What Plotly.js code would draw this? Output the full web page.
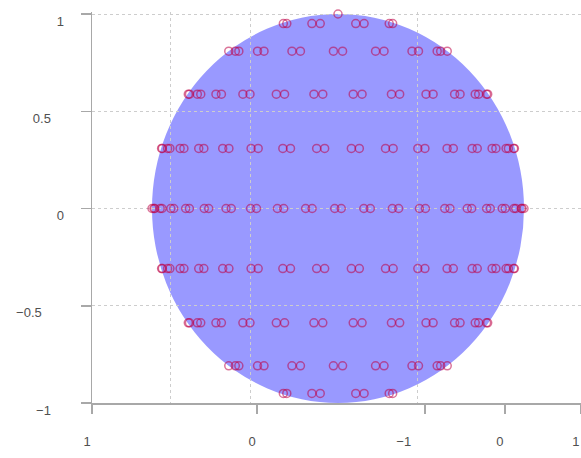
<!DOCTYPE html>
<html>
<head>
<meta charset="utf-8">
<script src="https://cdn.plot.ly/plotly-3.0.1.min.js"></script>
<style>
html,body{margin:0;padding:0;background:#ffffff;}
#chart{width:581px;height:458px;}
</style>
</head>
<body>
<div id="chart"></div>
<script>
// Row heights (y) of the point rows
const rowY = [1, 0.951, 0.809, 0.588, 0.309, 0, -0.309, -0.588, -0.809, -0.951];

// x positions of the points in each row
const x90 = [0];
const x72 = [-0.2939, -0.2753, -0.1403, -0.0955, 0.0955, 0.1403, 0.2753, 0.2939];
const x54 = [-0.5873, -0.5520, -0.5331, -0.4327, -0.3979, -0.2475, -0.2020, -0.0246,
             0.0246, 0.2020, 0.2475, 0.3979, 0.4327, 0.5331, 0.5520, 0.5873];
const x36 = [-0.8049, -0.7986, -0.7563, -0.7379, -0.6562, -0.6269, -0.5113, -0.4733,
             -0.3316, -0.2873, -0.1294, -0.0818, 0.0818, 0.1294, 0.2873, 0.3316,
             0.4733, 0.5113, 0.6269, 0.6562, 0.7379, 0.7563, 0.7986, 0.8049];
const x18 = [-0.9484, -0.9442, -0.9162, -0.9037, -0.8488, -0.8284, -0.7487, -0.7213,
             -0.6199, -0.5865, -0.4673, -0.4292, -0.2966, -0.2554, -0.1147, -0.0717,
             0.0717, 0.1147, 0.2554, 0.2966, 0.4292, 0.4673, 0.5865, 0.6199,
             0.7213, 0.7487, 0.8284, 0.8488, 0.9037, 0.9162, 0.9442, 0.9484];
const x0 = [-1.000, -0.990, -0.985, -0.956, -0.946, -0.899, -0.883, -0.819, -0.799, -0.719,
            -0.695, -0.602, -0.574, -0.470, -0.438, -0.326, -0.292, -0.174, -0.139, -0.0175,
            0.0175, 0.139, 0.174, 0.292, 0.326, 0.438, 0.470, 0.574, 0.602, 0.695,
            0.719, 0.799, 0.819, 0.883, 0.899, 0.946, 0.956, 0.985, 0.990, 1.000];
const rowX = [x90, x72, x54, x36, x18, x0, x18, x36, x54, x72];

// sphere disc extent
const discX = [-1, 1];
const discY = [-1, 1];

// axes
const xRange = [-1.3226, 1.3065];
const yRange = [-1, 1.0103];
const xTickVals = [-1.322, -0.4355, 0.4677, 0.8978, 1.306];
const xTickText = ["1", "0", "\u22121\u2003\u2003\u2002", "0", "1"];
const xGridVals = [-0.903, -0.468, 0.425];
const yTickVals = [-1, -0.5, 0, 0.5, 1];
const yTickText = ["\u22121\u2003", "\u22120.5\u2003\u2002\u2009", "0", "0.5\u2003", "1"];

// body rows on the main axis, the pole point on the overlay axis
const xs = [], ys = [];
rowX.forEach((row, i) => { if (i > 0) row.forEach(v => { xs.push(v); ys.push(rowY[i]); }); });

const axisCol = '#a8a8a8';
const gridCol = '#cdcdcd';
const mk = {symbol: 'circle-open', size: 8, color: 'rgba(190,0,70,0.55)', line: {width: 1.5}};

const data = [{
  type: 'scatter', mode: 'markers', x: xs, y: ys, xaxis: 'x', yaxis: 'y',
  cliponaxis: false, hoverinfo: 'skip', marker: mk
}, {
  type: 'scatter', mode: 'markers', x: x90, y: [rowY[0]], xaxis: 'x2', yaxis: 'y',
  cliponaxis: false, hoverinfo: 'skip', marker: mk
}];

const layout = {
  width: 581, height: 458,
  margin: {l: 92, r: 0, t: 12, b: 55, pad: 0},
  paper_bgcolor: '#ffffff', plot_bgcolor: '#ffffff',
  showlegend: false,
  font: {family: 'Liberation Sans, Arial, sans-serif', size: 13, color: '#505050'},
  xaxis: {
    range: xRange, tickmode: 'array', tickvals: xGridVals, showticklabels: false, ticks: '',
    showgrid: true, gridcolor: gridCol, griddash: 'dot', gridwidth: 1,
    zeroline: false, showline: true, linecolor: axisCol, linewidth: 1.5, fixedrange: true
  },
  xaxis2: {
    overlaying: 'x', anchor: 'y', side: 'bottom', range: xRange,
    tickmode: 'array', tickvals: xTickVals, ticktext: xTickText,
    ticks: 'outside', ticklen: 10, tickwidth: 1.5, tickcolor: axisCol,
    showgrid: false, zeroline: false, showline: false,
    ticklabelstandoff: 16, ticklabelshift: -5, fixedrange: true
  },
  yaxis: {
    range: yRange, tickmode: 'array', tickvals: yTickVals, ticktext: yTickText,
    ticks: 'outside', ticklen: 10, tickwidth: 1.5, tickcolor: axisCol,
    showgrid: true, gridcolor: gridCol, griddash: 'dot', gridwidth: 1,
    zeroline: false, showline: true, linecolor: axisCol, linewidth: 1.5,
    ticklabelstandoff: 14, ticklabelshift: 7, fixedrange: true
  },
  shapes: [{
    type: 'circle', xref: 'x', yref: 'y', layer: 'below',
    x0: discX[0], x1: discX[1], y0: discY[0], y1: discY[1],
    fillcolor: 'rgba(0,0,255,0.4)', line: {width: 0}
  }]
};

Plotly.newPlot('chart', data, layout, {displayModeBar: false, staticPlot: true});
</script>
</body>
</html>
